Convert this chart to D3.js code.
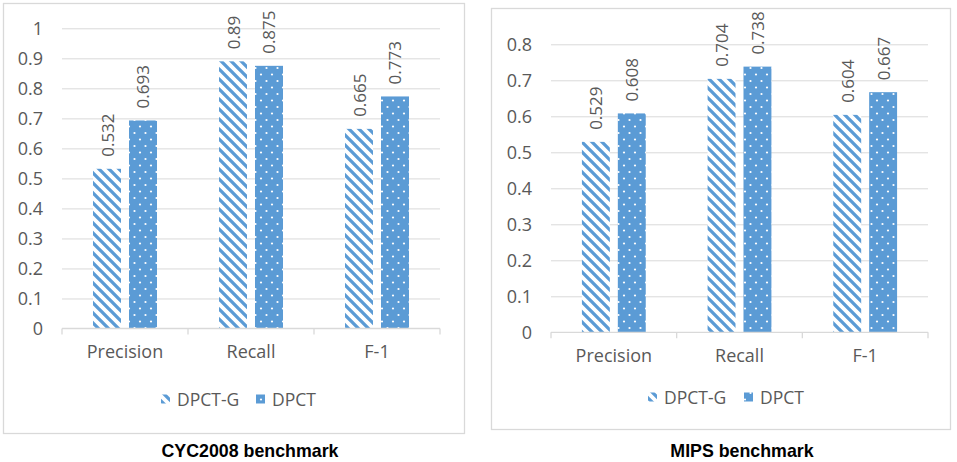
<!DOCTYPE html>
<html><head><meta charset="utf-8">
<script src="https://cdn.jsdelivr.net/npm/d3@7"></script>
<style>
html,body{margin:0;padding:0;background:#fff;}
svg{display:block;}
text{font-family:"Open Sans",sans-serif;fill:#595959;}
</style></head>
<body>
<svg id="chart" width="957" height="462"></svg>
<script>
const categories = ["Precision", "Recall", "F-1"];
const seriesNames = ["DPCT-G", "DPCT"];
const cycDPCTG = [0.532, 0.89, 0.665];
const cycDPCT = [0.693, 0.875, 0.773];
const mipsDPCTG = [0.529, 0.704, 0.604];
const mipsDPCT = [0.608, 0.738, 0.667];
const cycTicks = [0, 0.1, 0.2, 0.3, 0.4, 0.5, 0.6, 0.7, 0.8, 0.9, 1];
const mipsTicks = [0, 0.1, 0.2, 0.3, 0.4, 0.5, 0.6, 0.7, 0.8];
const titles = ["CYC2008 benchmark", "MIPS benchmark"];

const BLUE = "#5b9bd5";
const svg = d3.select("#chart");
const defs = svg.append("defs");

// striped pattern (wide downward diagonal)
const P = 10;
const ps = defs.append("pattern").attr("id", "stripes").attr("patternUnits", "userSpaceOnUse")
  .attr("width", P).attr("height", P);
ps.append("rect").attr("width", P).attr("height", P).attr("fill", "#fff");
ps.append("path").attr("d", `M-1,-1 L${P+1},${P+1} M${-P/2-1},${P/2-1} L${P/2+1},${1.5*P+1} M${P/2-1},${-P/2-1} L${1.5*P+1},${P/2+1}`)
  .attr("stroke", BLUE).attr("stroke-width", 3.3);

// dotted pattern
const pd = defs.append("pattern").attr("id", "dots").attr("patternUnits", "userSpaceOnUse")
  .attr("width", 11).attr("height", 13);
pd.append("rect").attr("width", 11).attr("height", 13).attr("fill", BLUE);
pd.append("circle").attr("cx", 2.5).attr("cy", 3).attr("r", 1.1).attr("fill", "#fff");
pd.append("circle").attr("cx", 8).attr("cy", 9.5).attr("r", 1.1).attr("fill", "#fff");

const fills = ["url(#stripes)", "url(#dots)"];

const panels = [
  { box: [3, 3, 464, 433], plotX: [62, 440], y0: 328.5, y1: 28.3, top: 1, ticks: cycTicks,
    series: [cycDPCTG, cycDPCT], legendY: 399, legendX: [161, 256], title: titles[0], titleX: 250 },
  { box: [491, 8, 950, 429], plotX: [551, 928], y0: 332.3, y1: 44.3, top: 0.8, ticks: mipsTicks,
    series: [mipsDPCTG, mipsDPCT], legendY: 397, legendX: [648, 744], title: titles[1], titleX: 742 }
];

panels.forEach(p => {
  const g = svg.append("g");
  g.append("rect").attr("x", p.box[0] + 0.5).attr("y", p.box[1] + 0.5)
    .attr("width", p.box[2] - p.box[0]).attr("height", p.box[3] - p.box[1])
    .attr("fill", "#fff").attr("stroke", "#d9d9d9").attr("stroke-width", 1.3);

  const y = d3.scaleLinear().domain([0, p.top]).range([p.y0, p.y1]);
  const x = d3.scaleBand().domain(categories).range(p.plotX).paddingInner(0).paddingOuter(0);
  const bw = x.bandwidth();
  const xs = d3.scaleBand().domain(seriesNames).range([bw * 31 / 126, bw * 95 / 126]).paddingInner(0.2222);

  const ya = g.append("g").attr("transform", `translate(${p.plotX[0]},0)`)
    .call(d3.axisLeft(y).tickValues(p.ticks).tickSize(-(p.plotX[1] - p.plotX[0])).tickPadding(19)
      .tickFormat(d => d3.format("")(+d.toFixed(1))));
  ya.select(".domain").remove();
  ya.selectAll(".tick line").attr("stroke", "#d9d9d9").attr("stroke-width", 1);
  ya.selectAll(".tick").filter(d => d === 0).select("line").remove();
  ya.selectAll(".tick text").attr("fill", "#595959").style("font-size", "18px")
    .style("font-family", '"Open Sans",sans-serif');

  seriesNames.forEach((s, si) => {
    const vals = p.series[si];
    g.selectAll(null).data(categories).enter().append("rect")
      .attr("x", c => x(c) + xs(s)).attr("y", (c, i) => y(vals[i]))
      .attr("width", xs.bandwidth()).attr("height", (c, i) => y(0) - y(vals[i]))
      .attr("fill", fills[si]);
    g.selectAll(null).data(categories).enter().append("text")
      .attr("transform", (c, i) => `translate(${x(c) + xs(s) + xs.bandwidth() / 2},${y(vals[i]) - 12}) rotate(-90)`)
      .attr("text-anchor", "start").attr("dominant-baseline", "central")
      .style("font-size", "17px")
      .text((c, i) => String(vals[i]));
  });

  const xa = g.append("g").attr("transform", `translate(0,${y(0)})`)
    .call(d3.axisBottom(x).tickSize(0).tickPadding(17));
  xa.select(".domain").attr("stroke", "#d9d9d9").attr("stroke-width", 1.3)
    .attr("d", `M${p.plotX[0]},0H${p.plotX[1]}`);
  xa.selectAll(".tick text").attr("fill", "#595959").style("font-size", "18px")
    .style("font-family", '"Open Sans",sans-serif').attr("dy", "0.68em");
  const bounds = categories.map(c => x(c)).concat([p.plotX[1]]);
  xa.selectAll(".sep").data(bounds).enter().append("line")
    .attr("x1", d => d).attr("x2", d => d).attr("y1", 0).attr("y2", 6)
    .attr("stroke", "#d9d9d9").attr("stroke-width", 1.3);

  seriesNames.forEach((s, si) => {
    g.append("rect").attr("x", p.legendX[si]).attr("y", p.legendY - 4.5)
      .attr("width", 9).attr("height", 9).attr("fill", fills[si]);
    g.append("text").attr("x", p.legendX[si] + 16).attr("y", p.legendY)
      .attr("dominant-baseline", "central").style("font-size", "17.5px").text(s);
  });

  svg.append("text").attr("x", p.titleX).attr("y", 451).attr("text-anchor", "middle")
    .attr("dominant-baseline", "central")
    .style("font-family", '"Liberation Sans",Arial,sans-serif').style("font-weight", "bold")
    .style("font-size", "17.8px").style("fill", "#000").text(p.title);
});
</script>
</body></html>
